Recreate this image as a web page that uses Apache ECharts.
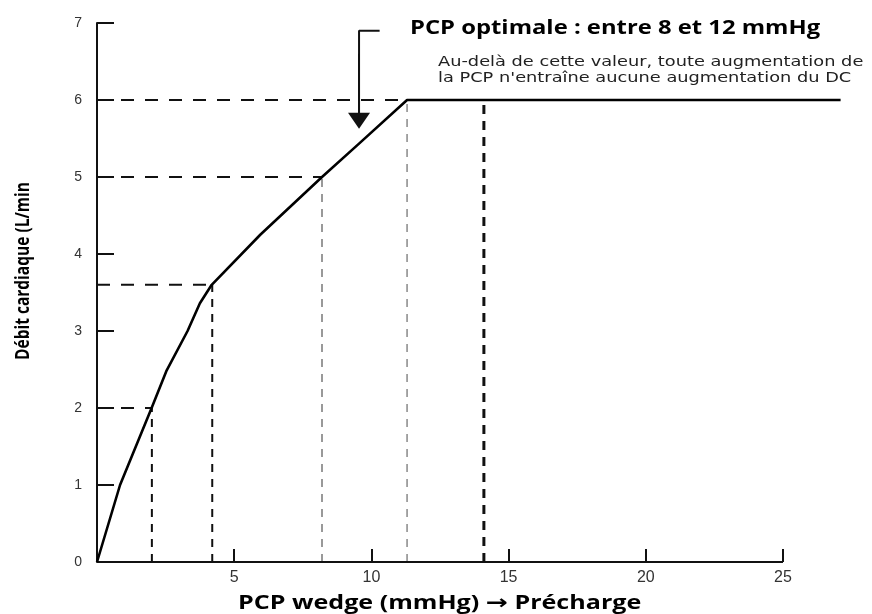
<!DOCTYPE html>
<html>
<head>
<meta charset="utf-8">
<script src="https://cdn.jsdelivr.net/npm/echarts@6/dist/echarts.min.js"></script>
<style>
  html, body { margin: 0; padding: 0; background: #fff; }
  #chart { width: 872px; height: 614px; }
</style>
</head>
<body>
<div id="chart"></div>
<script>
// courbe de Frank-Starling : DC en fonction de la PCP
const curveX = [0, 0.84, 1.99, 2.54, 3.3, 3.75, 4.18, 5.95, 8.2, 9.6, 11.3, 27.1];
const curveY = [0, 1.0, 2.0, 2.49, 3.0, 3.36, 3.6, 4.25, 5.0, 5.45, 6.0, 6.0];

// points repères (pointillés vers les axes)
const guideX = [2.0, 4.2, 8.2, 11.3];
const guideY = [2.0, 3.6, 5.0, 6.0];
const guideColor = ['#111', '#111', '#777', '#888'];
const guideWidth = [2, 2, 1.5, 1.5];

// pointillé vertical épais au-delà de la zone optimale
const extraX = 14.1;
const extraY = 6.0;

// flèche "PCP optimale"
const arrowX = [10.3, 9.55, 9.55];
const arrowY = [6.9, 6.9, 5.73];

// axe des x tracé jusqu'à 25 seulement
const xAxisEnd = 25;
const xTicks = [5, 10, 15, 20, 25];
const yTicks = [0, 1, 2, 3, 4, 5, 6, 7];

const chart = echarts.init(document.getElementById('chart'));

const series = [];

guideX.forEach((gx, i) => {
  const gy = guideY[i];
  series.push({
    type: 'line', symbol: 'none', silent: true,
    data: [[0, gy], [gx, gy]],
    lineStyle: { color: '#111', width: 2, type: [13, 11] }
  });
  series.push({
    type: 'line', symbol: 'none', silent: true,
    data: [[gx, 0], [gx, gy]],
    lineStyle: { color: guideColor[i], width: guideWidth[i], type: [8, 7] }
  });
});

series.push({
  type: 'line', symbol: 'none', silent: true,
  data: [[extraX, 0], [extraX, extraY]],
  lineStyle: { color: '#111', width: 3, type: [9, 7] }
});

// ligne de l'axe x
series.push({
  type: 'line', symbol: 'none', silent: true, z: 4,
  data: [[0, 0], [xAxisEnd, 0]],
  lineStyle: { color: '#111', width: 2 }
});

series.push({
  type: 'line', symbol: 'none', silent: true, z: 6,
  data: curveX.map((x, i) => [x, curveY[i]]),
  lineStyle: { color: '#000', width: 2.6 }
});

series.push({
  type: 'line', symbol: 'none', silent: true, z: 6,
  data: arrowX.map((x, i) => [x, arrowY[i]]),
  lineStyle: { color: '#111', width: 2 },
  markLine: {
    silent: true,
    symbol: ['none', 'triangle'],
    symbolSize: [22, 16],
    label: { show: false },
    lineStyle: { color: '#111', width: 2, type: 'solid' },
    data: [[
      { coord: [arrowX[1], arrowY[1] - 0.3] },
      { coord: [arrowX[2], arrowY[2]] }
    ]]
  }
});

const option = {
  animation: false,
  grid: { left: 97, right: 6.7, top: 23, bottom: 52, containLabel: false },
  xAxis: {
    type: 'value', min: 0, max: 28,
    axisLine: { show: false },
    axisTick: { show: true, inside: true, length: 13, customValues: xTicks,
      lineStyle: { color: '#111', width: 2 } },
    axisLabel: { customValues: xTicks, color: '#333', fontSize: 16, margin: 8,
      fontFamily: 'Liberation Sans' },
    splitLine: { show: false }
  },
  yAxis: {
    type: 'value', min: 0, max: 7, interval: 1,
    axisLine: { show: true, lineStyle: { color: '#111', width: 2 } },
    axisTick: { show: true, inside: true, length: 17, lineStyle: { color: '#111', width: 2 } },
    axisLabel: {
      color: '#333', fontSize: 14, margin: 15, fontFamily: 'Liberation Sans',
      formatter: v => (yTicks.includes(v) ? String(v) : '')
    },
    splitLine: { show: false }
  },
  graphic: [
    {
      type: 'text', x: 410, y: 28, scaleX: 1.19,
      style: { text: 'PCP optimale : entre 8 et 12 mmHg', font: 'bold 20px "Open Sans"',
        fill: '#000', textVerticalAlign: 'middle' }
    },
    {
      type: 'text', x: 438, y: 54, scaleX: 1.27,
      style: {
        text: 'Au-delà de cette valeur, toute augmentation de\nla PCP n\'entraîne aucune augmentation du DC',
        font: '14px "DejaVu Sans"', fill: '#222', lineHeight: 16
      }
    },
    {
      type: 'text', x: 238, y: 604, scaleX: 1.32,
      style: {
        text: 'PCP wedge (mmHg) {a|→} Précharge',
        font: 'bold 19px "Open Sans"', fill: '#000', textVerticalAlign: 'middle',
        rich: { a: { font: 'bold 20px "DejaVu Sans"', fill: '#000' } }
      }
    },
    {
      type: 'text', x: 23, y: 360, rotation: Math.PI / 2, scaleY: 1.3,
      style: { text: 'Débit cardiaque (L/min', font: 'bold 15.5px "Open Sans"', fill: '#000',
        textVerticalAlign: 'middle' }
    }
  ],
  series: series
};

chart.setOption(option);
</script>
</body>
</html>
